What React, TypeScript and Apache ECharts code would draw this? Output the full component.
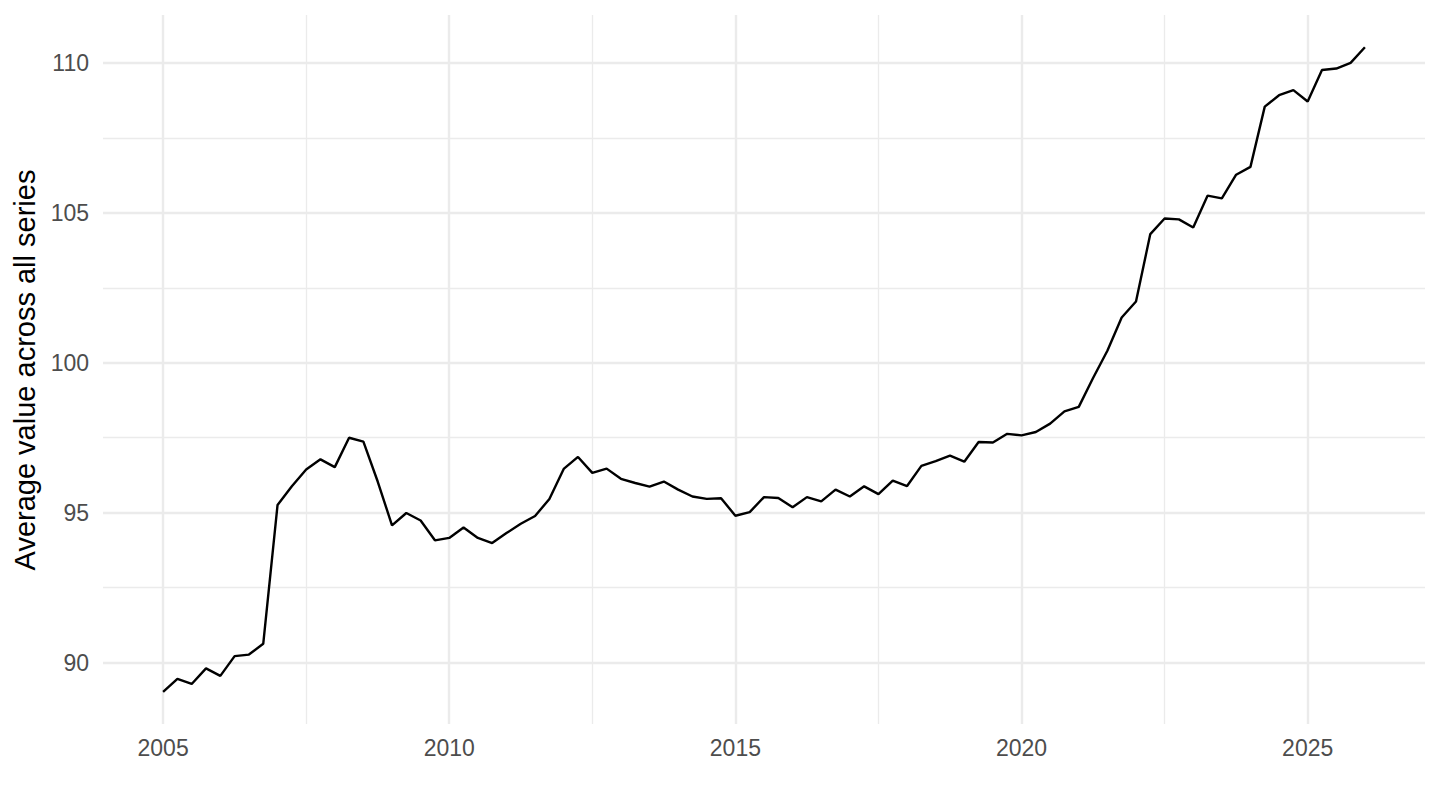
import React, { useEffect, useRef } from "react";
import * as echarts from "echarts";

// Quarterly average values, 2005 Q1 .. 2026 Q1
const startYear = 2005;
const values: number[] = [
  89.03, 89.46, 89.29, 89.81,
  89.56, 90.22, 90.27, 90.63,
  95.26, 95.88, 96.44, 96.78,
  96.52, 97.5, 97.37, 96.04,
  94.58, 94.99, 94.74, 94.08,
  94.16, 94.51, 94.16, 93.99,
  94.32, 94.63, 94.89, 95.46,
  96.46, 96.86, 96.33, 96.47,
  96.13, 95.99, 95.87, 96.04,
  95.77, 95.54, 95.46, 95.48,
  94.9, 95.02, 95.52, 95.49,
  95.18, 95.52, 95.38, 95.77,
  95.54, 95.88, 95.62, 96.07,
  95.89, 96.56, 96.72, 96.9,
  96.7, 97.36, 97.34, 97.63,
  97.58, 97.69, 97.97, 98.38,
  98.53, 99.49, 100.4, 101.51,
  102.04, 104.29, 104.81, 104.78,
  104.51, 105.57, 105.48, 106.27,
  106.53, 108.54, 108.92, 109.09,
  108.71, 109.76, 109.81, 110.0,
  110.52,
];
const xTicks = [2005, 2010, 2015, 2020, 2025];
const xMinor = [2007.5, 2012.5, 2017.5, 2022.5];
const yTicks = [90, 95, 100, 105, 110];
const yMinor = [92.5, 97.5, 102.5, 107.5];
const yTitle = "Average value across all series";

const GRID_COLOR = "#ebebeb";

export default function App() {
  const ref = useRef<HTMLDivElement>(null);

  useEffect(() => {
    if (!ref.current) return;
    const chart = echarts.init(ref.current, undefined, { renderer: "svg" });
    const points = values.map((v, i) => [startYear + i / 4, v]);
    const xLo = startYear;
    const xHi = startYear + (values.length - 1) / 4;
    const xPad = (xHi - xLo) * 0.05;
    const yLo = Math.min(...values);
    const yHi = Math.max(...values);
    const yPad = (yHi - yLo) * 0.05;

    const gridLines: any[] = [
      ...xMinor.map((x) => ({ xAxis: x, lineStyle: { width: 1.3 } })),
      ...yMinor.map((y) => ({ yAxis: y, lineStyle: { width: 1.3 } })),
      ...xTicks.map((x) => ({ xAxis: x, lineStyle: { width: 2.4 } })),
      ...yTicks.map((y) => ({ yAxis: y, lineStyle: { width: 2.4 } })),
    ];

    chart.setOption({
      animation: false,
      backgroundColor: "#ffffff",
      textStyle: { fontFamily: "Liberation Sans, Arial, sans-serif" },
      grid: { left: 103, right: 15, top: 15, bottom: 86, containLabel: false },
      xAxis: {
        type: "value",
        min: xLo - xPad,
        max: xHi + xPad,
        axisLine: { show: false },
        axisTick: { show: false },
        splitLine: { show: false },
        axisLabel: {
          customValues: xTicks,
          color: "#4d4d4d",
          fontSize: 23,
          margin: 12,
          formatter: (v: number) => String(v),
        },
      },
      yAxis: {
        type: "value",
        min: yLo - yPad,
        max: yHi + yPad,
        axisLine: { show: false },
        axisTick: { show: false },
        splitLine: { show: false },
        axisLabel: {
          customValues: yTicks,
          color: "#4d4d4d",
          fontSize: 23,
          margin: 14,
          formatter: (v: number) => String(v),
        },
      },
      graphic: [
        {
          type: "text",
          x: 25,
          y: 370,
          rotation: Math.PI / 2,
          style: {
            text: yTitle,
            fontSize: 29,
            fill: "#000000",
            fontFamily: "Liberation Sans, Arial, sans-serif",
            textAlign: "center",
            textVerticalAlign: "middle",
          },
        },
      ],
      series: [
        {
          type: "line",
          name: "grid",
          z: 1,
          silent: true,
          data: [],
          markLine: {
            z: 1,
            silent: true,
            symbol: ["none", "none"],
            label: { show: false },
            lineStyle: { color: GRID_COLOR, type: "solid" },
            data: gridLines,
          },
        },
        {
          type: "line",
          name: "Average",
          z: 10,
          data: points,
          showSymbol: false,
          symbol: "none",
          lineStyle: { color: "#000000", width: 2.4 },
          itemStyle: { color: "#000000" },
        },
      ],
    });

    return () => chart.dispose();
  }, []);

  return (
    <div
      ref={ref}
      style={{ position: "fixed", left: 0, top: 0, width: 1440, height: 810 }}
    />
  );
}
